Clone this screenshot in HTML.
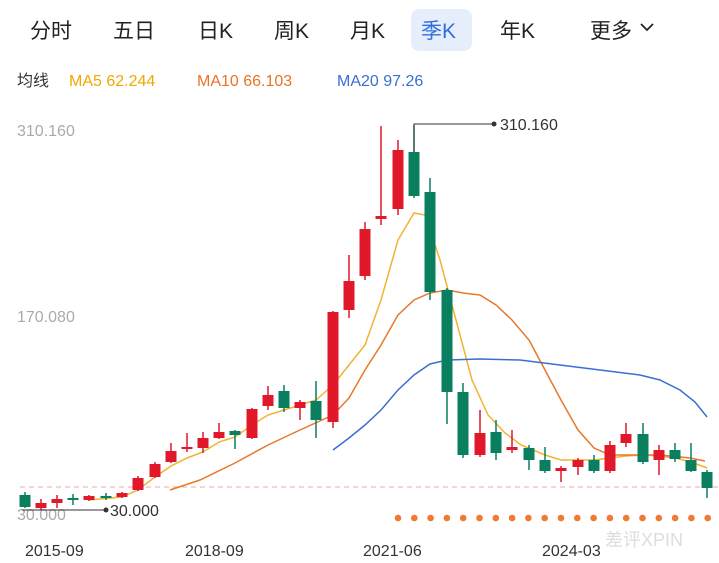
<!DOCTYPE html>
<html><head><meta charset="utf-8"><style>
body{margin:0;width:719px;height:563px;background:#fff;overflow:hidden;font-family:"Liberation Sans","Noto Sans CJK SC",sans-serif}
</style></head><body>
<svg width="719" height="563" xmlns="http://www.w3.org/2000/svg" style="position:absolute;left:0;top:0">
<g font-family="Liberation Sans, Noto Sans CJK SC, sans-serif">
<rect x="411" y="9" width="61" height="42" rx="8" fill="#e6eefc"/>
<g font-size="21" fill="#222">
<text x="30" y="38">分时</text><text x="113" y="38">五日</text><text x="198" y="38">日K</text>
<text x="274" y="38">周K</text><text x="350" y="38">月K</text><text x="421" y="38" fill="#2f6fe0">季K</text>
<text x="500" y="38">年K</text><text x="590" y="38">更多</text></g>
<path d="M641 24 l6 6 l6 -6" stroke="#222" stroke-width="1.8" fill="none"/>
<g font-size="16"><text x="17" y="86" fill="#333">均线</text>
<text x="69" y="86" fill="#f0a800">MA5 62.244</text>
<text x="197" y="86" fill="#e8732a">MA10 66.103</text>
<text x="337" y="86" fill="#3a6fd0">MA20 97.26</text></g>
<g font-size="16" fill="#aaa"><text x="17" y="136">310.160</text><text x="17" y="322">170.080</text><text x="17" y="520">30.000</text></g>
<line x1="20" y1="487" x2="719" y2="487" stroke="#f0a8a0" stroke-dasharray="5,4" stroke-width="1"/>
<polyline fill="none" stroke="#f2b233" stroke-width="1.5" points="89,500 122,497 138,490 155,477 171,466 187,458 203,452 219,442 235,437 252,425 268,415 284,410 300,405 316,400 333,385 349,365 365,345 381,300 398,240 414,213 425,215 440,260 456,320 472,380 488,415 505,433 521,445 545,455 561,460 580,460 594,460 610,458 626,456 643,455 659,456 675,458 691,462 707,468"/>
<polyline fill="none" stroke="#e8782a" stroke-width="1.5" points="170,490 200,480 235,463 268,445 300,430 333,415 349,398 365,370 381,345 398,315 414,300 430,293 447,290 463,293 480,295 496,305 512,320 529,340 545,370 561,400 578,430 594,448 610,455 630,455 660,455 690,458 705,461"/>
<polyline fill="none" stroke="#3a6fd0" stroke-width="1.5" points="333,450 349,438 365,425 381,410 398,390 414,375 430,364 447,360 480,359 520,360 560,365 600,370 640,375 660,380 680,390 695,402 707,417"/>
<g id="c"></g>
<polyline points="414,152 414,124 494,124" fill="none" stroke="#333" stroke-width="1"/><circle cx="494" cy="124" r="2.5" fill="#333"/>
<text x="500" y="130" font-size="16" fill="#333">310.160</text>
<line x1="22" y1="510" x2="106" y2="510" stroke="#333"/><circle cx="106" cy="510" r="2.5" fill="#333"/>
<text x="110" y="516" font-size="16" fill="#333">30.000</text>
<g font-size="16" fill="#333"><text x="25" y="556">2015-09</text><text x="185" y="556">2018-09</text><text x="363" y="556">2021-06</text><text x="542" y="556">2024-03</text></g>
<text x="605" y="546" font-size="18" fill="#ddd">差评XPIN</text>
<g id="d"></g>
</g></svg>
<script>
var C=[[25,'g',495,507,492,508],[41,'r',503,508,499,510],[57,'r',499,503,495,508],[73,'g',498,500,494,505],[89,'r',496,500,495,501],[106,'g',496,498,493,500],[122,'r',493,497,492,498],[138,'r',478,490,476,491],[155,'r',464,477,462,478],[171,'r',451,462,443,463],[187,'r',447,449,433,452],[203,'r',438,448,432,453],[219,'r',432,438,423,439],[235,'g',431,435,430,449],[252,'r',409,438,408,439],[268,'r',395,406,386,410],[284,'g',391,408,385,412],[300,'r',402,408,400,420],[316,'g',401,420,381,438],[333,'r',312,422,311,428],[349,'r',281,310,255,318],[365,'r',229,276,222,280],[381,'r',216,219,126,225],[398,'r',150,209,140,215],[414,'g',152,196,125,198],[430,'g',192,292,178,300],[447,'g',290,392,288,424],[463,'g',392,455,383,458],[480,'r',433,455,410,457],[496,'g',432,453,420,460],[512,'r',447,450,430,453],[529,'g',448,460,445,470],[545,'g',460,471,447,473],[561,'r',468,471,466,482],[578,'r',460,467,458,475],[594,'g',460,471,455,473],[610,'r',445,471,441,473],[626,'r',434,443,423,447],[643,'g',434,462,423,464],[659,'r',450,460,445,475],[675,'g',450,459,443,462],[691,'g',460,471,443,472],[707,'g',472,488,470,498]];
var s='';C.forEach(function(c){var col=c[1]=='r'?'#e0182a':'#0a7f60';s+='<line x1="'+c[0]+'" y1="'+c[4]+'" x2="'+c[0]+'" y2="'+c[5]+'" stroke="'+col+'" stroke-width="1.5"/><rect x="'+(c[0]-5.5)+'" y="'+c[2]+'" width="11" height="'+Math.max(2,c[3]-c[2])+'" fill="'+col+'"/>';});
document.getElementById('c').innerHTML=s;
var d='';for(var i=0;i<20;i++){d+='<circle cx="'+(398+i*16.3)+'" cy="518" r="3.3" fill="#f07a30"/>';}
document.getElementById('d').innerHTML=d;
</script>
</body></html>
